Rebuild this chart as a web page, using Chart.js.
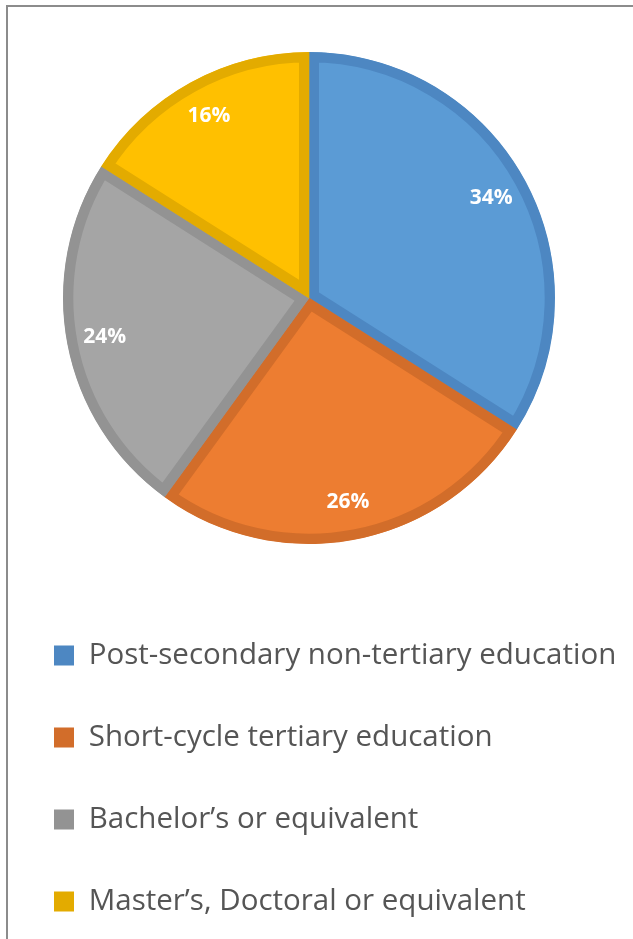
<!DOCTYPE html>
<html>
<head>
<meta charset="utf-8">
<script src="https://cdn.jsdelivr.net/npm/chart.js@4/dist/chart.umd.min.js"></script>
<style>
    html, body { margin: 0; padding: 0; background: #ffffff; }
    #wrap { position: relative; width: 633px; height: 939px; overflow: hidden; }
    #frame {
        position: absolute; left: 6px; top: 5px; width: 700px; height: 1000px;
        border-left: 2px solid #8c8c8c; border-top: 2px solid #8c8c8c;
        pointer-events: none;
    }
</style>
</head>
<body>
<div id="wrap">
    <canvas id="education_pie" width="633" height="939"></canvas>
    <div id="frame"></div>
</div>
<script>
const categories = [
    "Post-secondary non-tertiary education",
    "Short-cycle tertiary education",
    "Bachelor’s or equivalent",
    "Master’s, Doctoral or equivalent"
]
const shares = [34, 26, 24, 16]

const fillColors = ["#5b9bd5", "#ed7d31", "#a5a5a5", "#ffc000"]
const edgeColors = ["#4d87c2", "#d26d2a", "#939393", "#e3ab00"]

const education_pie = document.querySelector("#education_pie")

// white bold percentages drawn near the rim of each slice
const sliceLabels = {
    id: "sliceLabels",
    afterDatasetsDraw(chart) {
        const ctx = chart.ctx
        const meta = chart.getDatasetMeta(0)
        ctx.save()
        ctx.fillStyle = "#ffffff"
        ctx.font = "bold 21px 'Open Sans'"
        ctx.textAlign = "center"
        ctx.textBaseline = "middle"
        meta.data.forEach((arc, i) => {
            const p = arc.getProps(["x", "y", "startAngle", "endAngle", "outerRadius"], true)
            const mid = (p.startAngle + p.endAngle) / 2
            const r = p.outerRadius * 0.845
            ctx.fillText(shares[i] + "%", p.x + Math.cos(mid) * r, p.y + Math.sin(mid) * r)
        })
        ctx.restore()
    }
}

function create_pie_chart(ctx, labels, values) {
    let data = {
        labels: labels,
        datasets: [{
            data: values,
            backgroundColor: fillColors,
            borderColor: edgeColors,
            borderWidth: 10,
            borderAlign: "inner",
            borderJoinStyle: "miter",
            hoverOffset: 0
        }]
    };

    const config = {
        type: "pie",
        data: data,
        options: {
            responsive: false,
            animation: false,
            radius: 246,
            layout: {
                padding: {left: 1.5, right: 16.5, top: 7.75, bottom: 12.75}
            },
            plugins: {
                tooltip: {enabled: false},
                legend: {
                    position: "bottom",
                    align: "start",
                    labels: {
                        boxWidth: 20,
                        boxHeight: 20,
                        padding: 52.5,
                        color: "#555555",
                        font: {family: "'Open Sans'", size: 29.5},
                        generateLabels(chart) {
                            return labels.map((text, i) => ({
                                text: text,
                                fillStyle: edgeColors[i],
                                strokeStyle: edgeColors[i],
                                lineWidth: 0,
                                fontColor: "#555555",
                                hidden: false,
                                index: i
                            }))
                        }
                    }
                }
            }
        },
        plugins: [sliceLabels]
    };
    return new Chart(ctx, config)
}

create_pie_chart(education_pie, categories, shares)
</script>
</body>
</html>
